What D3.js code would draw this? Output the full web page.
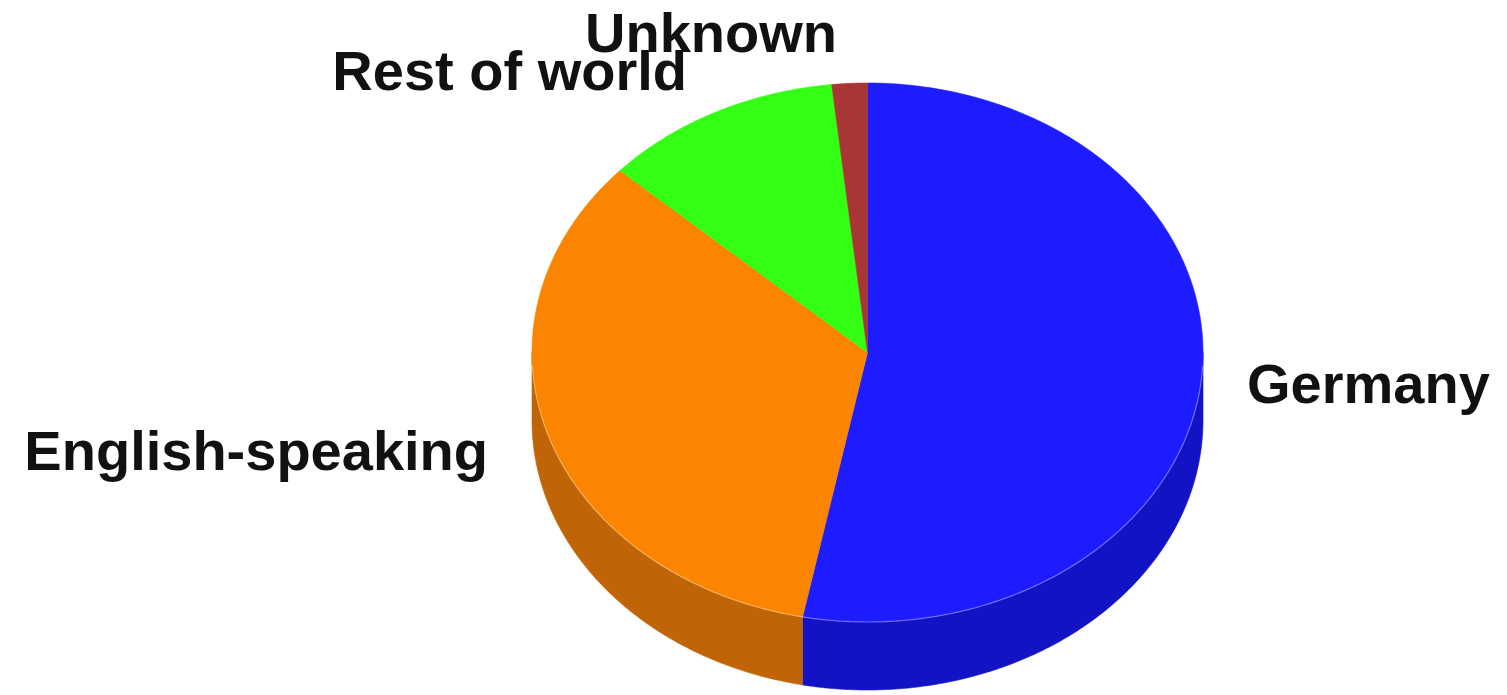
<!DOCTYPE html>
<html>
<head>
<meta charset="utf-8">
<script src="https://cdn.jsdelivr.net/npm/d3@7"></script>
<style>
  html, body { margin: 0; padding: 0; background: #ffffff; }
  svg { display: block; }
</style>
</head>
<body>
<svg id="chart" width="1507" height="695"></svg>
<script>
// ---- data ----
const categories = ["Germany", "English-speaking", "Rest of world", "Unknown"];
const values = [53.1, 33.7, 11.5, 1.7];
const topColors = ["#1c1cff", "#fb8500", "#33ff14", "#a83636"];
const sideColors = ["#1313c6", "#c06408", "#22b00d", "#7a2424"];

// ---- layout ----
const W = 1507, H = 695;
const cx = 867.5, cy = 352.5, rx = 335.5, ry = 269.5, depth = 68;
// label placement (anchor, x, baseline y) per category index
const labelLayout = [
  { anchor: "start", x: 1247, y: 403 },
  { anchor: "end",   x: 488,  y: 470 },
  { anchor: "end",   x: 687,  y: 90 },
  { anchor: "start", x: 585,  y: 52 }
];

const svg = d3.select("#chart");
const data = categories.map((c, i) => ({ name: c, value: values[i], i }));
const pie = d3.pie().sort(null).value(d => d.value).startAngle(0).endAngle(2 * Math.PI);
const arcs = pie(data);

const pt = (a, dy = 0) => [cx + rx * Math.sin(a), cy - ry * Math.cos(a) + dy];

function arcPoints(a0, a1, dy) {
  const n = Math.max(2, Math.ceil(Math.abs(a1 - a0) / 0.01));
  const pts = [];
  for (let k = 0; k <= n; k++) pts.push(pt(a0 + (a1 - a0) * k / n, dy));
  return pts;
}

const line = d3.line();

// side walls (only front half: angles between PI/2 and 3PI/2)
const gSide = svg.append("g");
arcs.forEach(a => {
  const s = Math.max(a.startAngle, Math.PI / 2);
  const e = Math.min(a.endAngle, 3 * Math.PI / 2);
  if (e <= s) return;
  const topPts = arcPoints(s, e, 0);
  const botPts = arcPoints(e, s, depth);
  gSide.append("path")
    .attr("d", line(topPts.concat(botPts)) + "Z")
    .attr("fill", sideColors[a.data.i])
    .attr("stroke", sideColors[a.data.i])
    .attr("stroke-width", 0.6);
});

// top faces
const gTop = svg.append("g");
arcs.forEach(a => {
  const pts = [[cx, cy]].concat(arcPoints(a.startAngle, a.endAngle, 0));
  gTop.append("path")
    .attr("d", line(pts) + "Z")
    .attr("fill", topColors[a.data.i])
    .attr("stroke", topColors[a.data.i])
    .attr("stroke-width", 0.6);
});

// subtle highlight on front rim
svg.append("path")
  .attr("d", line(arcPoints(Math.PI / 2 + 0.05, 3 * Math.PI / 2 - 0.05, 0)))
  .attr("fill", "none")
  .attr("stroke", "rgba(255,255,255,0.35)")
  .attr("stroke-width", 1.2);

// labels
svg.append("g").selectAll("text")
  .data(arcs)
  .join("text")
  .attr("x", d => labelLayout[d.data.i].x)
  .attr("y", d => labelLayout[d.data.i].y)
  .attr("text-anchor", d => labelLayout[d.data.i].anchor)
  .attr("font-family", "'Liberation Sans', Arial, Helvetica, sans-serif")
  .attr("font-weight", "bold")
  .attr("font-size", 56)
  .attr("fill", "#111111")
  .text(d => d.data.name);
</script>
</body>
</html>
